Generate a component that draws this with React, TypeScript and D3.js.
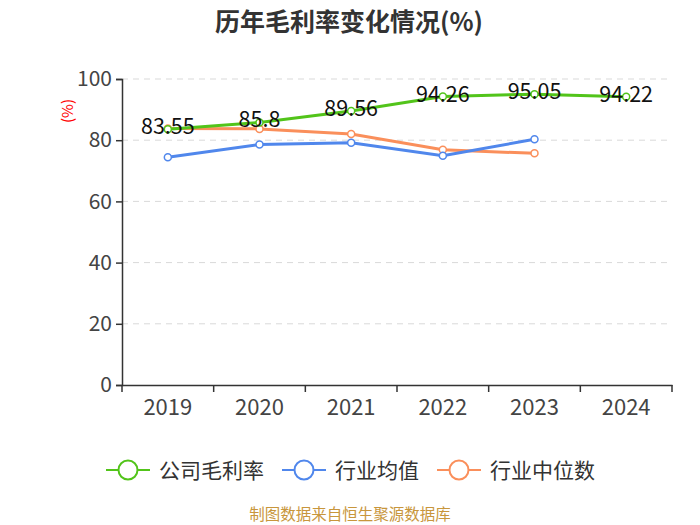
import { useEffect, useRef } from 'react';
import * as d3 from 'd3';

const years = ['2019', '2020', '2021', '2022', '2023', '2024'];
const companyMargin = [83.55, 85.8, 89.56, 94.26, 95.05, 94.22];
const industryAvg = [74.4, 78.6, 79.2, 74.9, 80.3];
const industryMedian = [83.8, 83.7, 82.0, 76.9, 75.7];
const yTicks = [0, 20, 40, 60, 80, 100];

const seriesNames = ['公司毛利率', '行业均值', '行业中位数'];
const seriesColors = ['#52c41a', '#5087ec', '#fa8f5b'];

const FONT = '"Noto Sans CJK SC", "Noto Sans", sans-serif';

export default function App() {
  const ref = useRef<SVGSVGElement>(null);

  useEffect(() => {
    if (!ref.current) return;
    const svg = d3.select(ref.current);
    svg.selectAll('*').remove();

    const width = 700;
    const height = 525;
    const left = 122;
    const right = 672;
    const top = 79;
    const bottom = 385;

    const x = d3.scaleBand<string>().domain(years).range([left, right]);
    const y = d3.scaleLinear().domain([0, 100]).range([bottom, top]);
    const cx = (yr: string) => (x(yr) as number) + x.bandwidth() / 2;

    svg.attr('width', width).attr('height', height);

    // title
    svg.append('text')
      .attr('x', 349)
      .attr('y', 31)
      .attr('text-anchor', 'middle')
      .attr('font-family', FONT)
      .attr('font-size', 25)
      .attr('font-weight', 'bold')
      .attr('fill', '#333')
      .text('历年毛利率变化情况(%)');

    // unit label
    svg.append('text')
      .attr('transform', `translate(73, 111) rotate(-90)`)
      .attr('text-anchor', 'middle')
      .attr('font-family', FONT)
      .attr('font-size', 15)
      .attr('fill', '#ff0000')
      .text('(%)');

    // grid lines
    svg.append('g')
      .selectAll('line')
      .data(yTicks.filter(d => d > 0))
      .enter()
      .append('line')
      .attr('x1', left)
      .attr('x2', right)
      .attr('y1', d => y(d))
      .attr('y2', d => y(d))
      .attr('stroke', '#d9d9d9')
      .attr('stroke-width', 1)
      .attr('stroke-dasharray', '6,5');

    // y axis
    const yAxis = svg.append('g')
      .attr('transform', `translate(${left},0)`)
      .call(d3.axisLeft(y).tickValues(yTicks).tickSize(6).tickPadding(4));
    yAxis.select('.domain').attr('stroke', '#333').attr('stroke-width', 1.5);
    yAxis.selectAll('.tick line').attr('stroke', '#333').attr('stroke-width', 1.5);
    yAxis.selectAll('.tick text')
      .attr('font-family', FONT)
      .attr('font-size', 21)
      .attr('fill', '#444');

    // x axis
    const xAxis = svg.append('g')
      .attr('transform', `translate(0,${bottom})`)
      .call(d3.axisBottom(x).tickSize(0).tickPadding(14));
    xAxis.select('.domain').attr('stroke', '#333').attr('stroke-width', 1.5);
    xAxis.selectAll('.tick text')
      .attr('font-family', FONT)
      .attr('font-size', 22)
      .attr('fill', '#444');
    xAxis.selectAll('line.bt')
      .data(d3.range(years.length + 1))
      .enter()
      .append('line')
      .attr('x1', i => left + i * x.bandwidth())
      .attr('x2', i => left + i * x.bandwidth())
      .attr('y1', 0)
      .attr('y2', 7)
      .attr('stroke', '#333')
      .attr('stroke-width', 1.5);

    const allSeries = [companyMargin, industryAvg, industryMedian];
    const line = d3.line<number>()
      .x((_, i) => cx(years[i]))
      .y(d => y(d));

    // draw median, avg, then company on top
    [2, 1, 0].forEach(si => {
      const data = allSeries[si];
      const g = svg.append('g');
      g.append('path')
        .datum(data)
        .attr('d', line)
        .attr('fill', 'none')
        .attr('stroke', seriesColors[si])
        .attr('stroke-width', 3);
      g.selectAll('circle')
        .data(data)
        .enter()
        .append('circle')
        .attr('cx', (_, i) => cx(years[i]))
        .attr('cy', d => y(d))
        .attr('r', 3.5)
        .attr('fill', '#fff')
        .attr('stroke', seriesColors[si])
        .attr('stroke-width', 1.5);
    });

    // data labels for company
    svg.append('g')
      .selectAll('text')
      .data(companyMargin)
      .enter()
      .append('text')
      .attr('x', (_, i) => cx(years[i]))
      .attr('y', d => y(d) + 5)
      .attr('text-anchor', 'middle')
      .attr('font-family', FONT)
      .attr('font-size', 21.5)
      .attr('fill', '#111')
      .text(d => String(d));

    // legend
    const legendX = [106, 282, 437];
    const legend = svg.append('g');
    seriesNames.forEach((name, i) => {
      const g = legend.append('g').attr('transform', `translate(${legendX[i]}, 470)`);
      g.append('line')
        .attr('x1', 0).attr('x2', 44).attr('y1', 0).attr('y2', 0)
        .attr('stroke', seriesColors[i]).attr('stroke-width', 2);
      g.append('circle')
        .attr('cx', 22).attr('cy', 0).attr('r', 9.5)
        .attr('fill', '#fff').attr('stroke', seriesColors[i]).attr('stroke-width', 2);
      g.append('text')
        .attr('x', 53)
        .attr('y', 7.5)
        .attr('font-family', FONT)
        .attr('font-size', 21)
        .attr('fill', '#333')
        .text(name);
    });

    // source
    svg.append('text')
      .attr('x', 350)
      .attr('y', 520)
      .attr('text-anchor', 'middle')
      .attr('font-family', FONT)
      .attr('font-size', 15.5)
      .attr('fill', '#c8963c')
      .text('制图数据来自恒生聚源数据库');
  }, []);

  return (
    <div style={{ position: 'fixed', left: 0, top: 0, width: 700, height: 525, background: '#fff', overflow: 'hidden' }}>
      <svg ref={ref} style={{ display: 'block' }} />
    </div>
  );
}
